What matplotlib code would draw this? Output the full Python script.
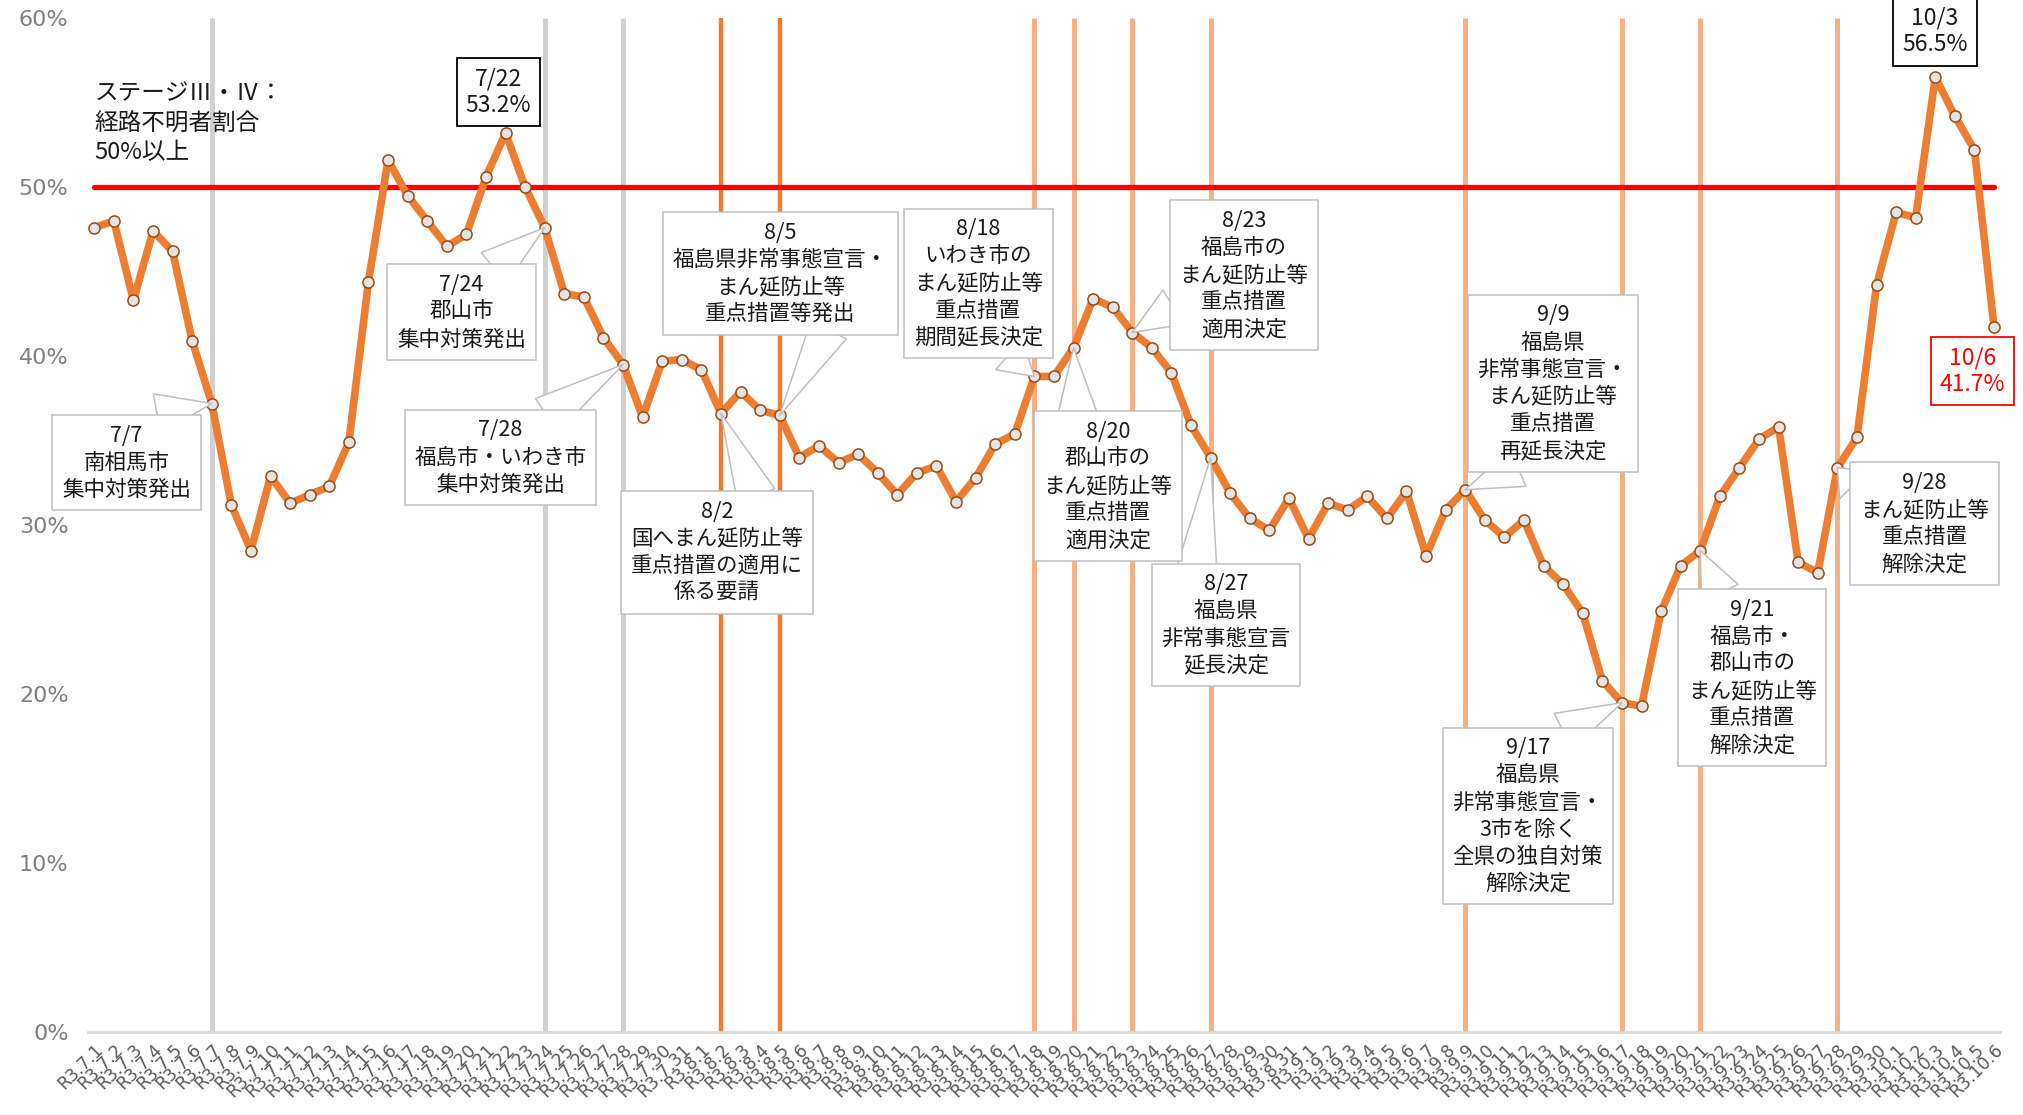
import matplotlib
matplotlib.use('Agg')
import matplotlib.pyplot as plt
import pandas as pd

plt.rcParams['font.family'] = ['Noto Sans CJK JP', 'DejaVu Sans']

# daily share of cases with unknown infection route (%), R3.7.1 - R3.10.6
dates = pd.date_range('2021-07-01', '2021-10-06')
tick_labels = [f'R3.{d.month}.{d.day}' for d in dates]
day_names = [f'{d.month}/{d.day}' for d in dates]

rate = [47.6, 48.0, 43.3, 47.4, 46.2, 40.9, 37.2, 31.2, 28.5, 32.9,
        31.3, 31.8, 32.3, 34.9, 44.4, 51.6, 49.5, 48.0, 46.5, 47.2,
        50.6, 53.2, 50.0, 47.6, 43.7, 43.5, 41.1, 39.5, 36.4, 39.7,
        39.8, 39.2, 36.6, 37.9, 36.8, 36.5, 34.0, 34.7, 33.7, 34.2,
        33.1, 31.8, 33.1, 33.5, 31.4, 32.8, 34.8, 35.4, 38.8, 38.8,
        40.5, 43.4, 42.9, 41.4, 40.5, 39.0, 35.9, 34.0, 31.9, 30.4,
        29.7, 31.6, 29.2, 31.3, 30.9, 31.7, 30.4, 32.0, 28.2, 30.9,
        32.1, 30.3, 29.3, 30.3, 27.6, 26.5, 24.8, 20.8, 19.5, 19.3,
        24.9, 27.6, 28.5, 31.7, 33.4, 35.1, 35.8, 27.8, 27.2, 33.4,
        35.2, 44.2, 48.5, 48.2, 56.5, 54.2, 52.2, 41.7]

threshold = 50

gray_events = ['7/7', '7/24', '7/28']
dark_events = ['8/2', '8/5']
light_events = ['8/18', '8/20', '8/23', '8/27', '9/9', '9/17', '9/21', '9/28']

notes = [
    ('7/7', '南相馬市\n集中対策発出'),
    ('7/24', '郡山市\n集中対策発出'),
    ('7/28', '福島市・いわき市\n集中対策発出'),
    ('8/2', '国へまん延防止等\n重点措置の適用に\n係る要請'),
    ('8/5', '福島県非常事態宣言・\nまん延防止等\n重点措置等発出'),
    ('8/18', 'いわき市の\nまん延防止等\n重点措置\n期間延長決定'),
    ('8/20', '郡山市の\nまん延防止等\n重点措置\n適用決定'),
    ('8/23', '福島市の\nまん延防止等\n重点措置\n適用決定'),
    ('8/27', '福島県\n非常事態宣言\n延長決定'),
    ('9/9', '福島県\n非常事態宣言・\nまん延防止等\n重点措置\n再延長決定'),
    ('9/17', '福島県\n非常事態宣言・\n3市を除く\n全県の独自対策\n解除決定'),
    ('9/21', '福島市・\n郡山市の\nまん延防止等\n重点措置\n解除決定'),
    ('9/28', 'まん延防止等\n重点措置\n解除決定'),
]
# callout box centres and where the pointer leaves the box (x in days from 7/1, y in %)
note_pos = [(1.65, 33.7), (18.75, 42.6), (20.74, 34.0), (31.79, 28.4),
            (35.03, 44.9), (45.14, 44.3), (51.75, 32.3), (58.7, 44.8),
            (57.78, 24.1), (74.47, 38.4), (73.2, 12.8), (84.65, 21.0),
            (93.45, 30.1)]
pointer_base = [(3.2, 36.6), (20.4, 45.2), (23.1, 36.5), (33.8, 31.7),
                (37.5, 41.6), (46.7, 40.1), (50.2, 36.5), (55.1, 42.9),
                (56.3, 27.4), (72.7, 33.4), (75.0, 17.8), (83.0, 26.0),
                (89.85, 32.4)]

value_boxes = [('7/22', (20.64, 55.6), 'black'),
               ('10/3', (93.97, 59.2), 'black'),
               ('10/6', (95.9, 39.1), '#ff0000')]

fig = plt.figure(figsize=(20.23, 11.15), dpi=100)
ax = fig.add_axes([0.0435, 0.0741, 0.9451, 0.9097])

x = list(range(len(rate)))
pos = {d: i for i, d in enumerate(day_names)}

ax.vlines([pos[d] for d in gray_events], 0, 60, color='#d0d0d0', lw=3.6, zorder=1)
ax.vlines([pos[d] for d in dark_events], 0, 60, color='#ed7d31', lw=3.2, zorder=1)
ax.vlines([pos[d] for d in light_events], 0, 60, color='#f4b183', lw=3.6, zorder=1)

ax.plot([x[0], x[-1]], [threshold, threshold], color='#ff0000', lw=3.8,
        solid_capstyle='round', zorder=2)
ax.plot(x, rate, color='#ed7d31', lw=5.5, marker='o', ms=8,
        mfc='#e4e4e4', mec='#9c4a12', mew=1.1, zorder=3)

for (d, txt), (cx, cy), base in zip(notes, note_pos, pointer_base):
    i = pos[d]
    # wedge: wide end at the box, tip on the data point
    ax.annotate('', xy=(i, rate[i]), xytext=base, zorder=4,
                arrowprops=dict(arrowstyle='wedge,tail_width=1.45,shrink_factor=0.5',
                                mutation_scale=20, fc='white', ec='#bfbfbf',
                                lw=1.1, shrinkA=0, shrinkB=0))
    ax.text(cx, cy, f'{d}\n{txt}', ha='center', va='center', fontsize=15.5,
            linespacing=1.3, color='#1a1a1a', zorder=5,
            bbox=dict(boxstyle='square,pad=0.45', fc='white', ec='#bfbfbf', lw=1.1))

for d, (cx, cy), col in value_boxes:
    i = pos[d]
    ax.text(cx, cy, f'{d}\n{rate[i]:.1f}%', ha='center', va='center',
            fontsize=16.5, color='#1a1a1a' if col == 'black' else col,
            linespacing=1.2, zorder=6,
            bbox=dict(boxstyle='square,pad=0.4', fc='white', ec=col, lw=1.3))

ax.text(0, 53.8, 'ステージⅢ・Ⅳ：\n経路不明者割合\n50%以上', ha='left',
        va='center', fontsize=17, linespacing=1.35, color='#1a1a1a', zorder=6)

ax.set_xlim(-0.32, 97.3)
ax.set_ylim(0, 60)
ax.set_yticks(range(0, 61, 10))
ax.set_yticklabels([f'{v}%' for v in range(0, 61, 10)], family='DejaVu Sans',
                   fontsize=16, color='#7f7f7f')
ax.set_xticks(x)
ax.set_xticklabels(tick_labels, rotation=45, ha='right', rotation_mode='anchor',
                   family='DejaVu Sans', fontsize=12.5, color='#595959')
ax.tick_params(axis='y', length=0, pad=14)
ax.tick_params(axis='x', length=0, pad=6)
for side in ('top', 'right', 'left'):
    ax.spines[side].set_visible(False)
ax.spines['bottom'].set_color('#d9d9d9')
ax.spines['bottom'].set_linewidth(2)

fig.savefig('out.png', dpi=100)
